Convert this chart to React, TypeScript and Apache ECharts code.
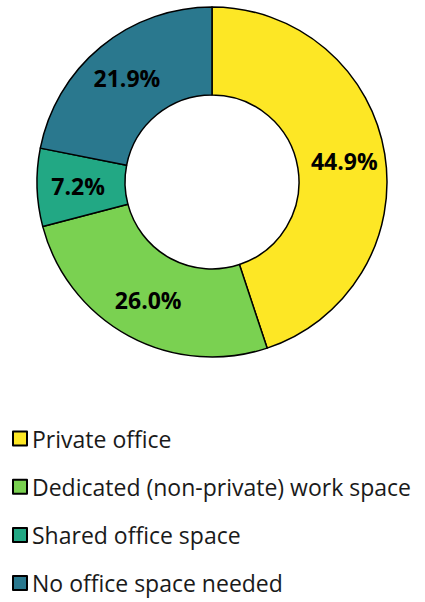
import React, { useEffect, useRef } from "react";
import * as echarts from "echarts";

const categories = [
  "Private office",
  "Dedicated (non-private) work space",
  "Shared office space",
  "No office space needed",
];
const values = [44.9, 26.0, 7.2, 21.9];
const colors = ["#FDE725", "#7AD151", "#22A884", "#2A788E"];

export default function App() {
  const ref = useRef<HTMLDivElement>(null);
  useEffect(() => {
    const chart = echarts.init(ref.current!, null, { renderer: "svg" });
    chart.setOption({
      animation: false,
      legend: {
        orient: "vertical",
        left: 7,
        top: 422,
        height: 180,
        itemWidth: 14,
        itemHeight: 14,
        itemGap: 25.2,
        icon: "rect",
        data: categories,
        textStyle: {
          fontFamily: "Open Sans",
          fontSize: 23,
          lineHeight: 22,
          color: "#1a1a1a",
        },
      },
      series: [
        {
          type: "pie",
          center: [212, 182],
          radius: [87, 175],
          startAngle: 90,
          clockwise: true,
          itemStyle: { borderColor: "#000", borderWidth: 1.5 },
          label: {
            show: true,
            position: "inside",
            formatter: (p: any) => p.value.toFixed(1) + "%",
            fontFamily: "Open Sans",
            fontWeight: "bold",
            fontSize: 23,
            color: "#000",
          },
          labelLine: { show: false },
          emphasis: { disabled: true },
          data: categories.map((c, i) => ({
            name: c,
            value: values[i],
            itemStyle: { color: colors[i] },
          })),
        },
      ],
    });
    return () => chart.dispose();
  }, []);
  return (
    <div
      ref={ref}
      style={{ position: "absolute", left: 0, top: 0, width: 425, height: 602 }}
    />
  );
}
